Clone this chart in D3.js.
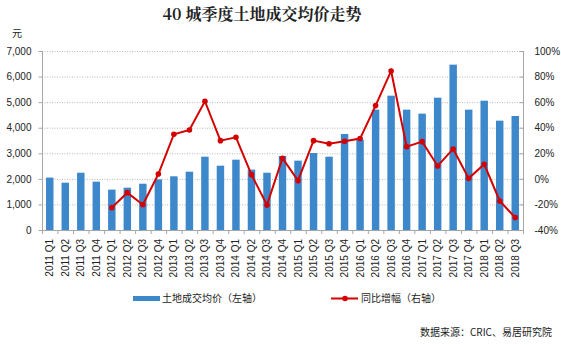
<!DOCTYPE html>
<html><head><meta charset="utf-8">
<script src="https://cdn.jsdelivr.net/npm/d3@7/dist/d3.min.js"></script>
<style>body{margin:0;background:#fff}svg{display:block}</style>
</head><body><svg id="c" width="561" height="345"></svg>
<script>
const categories = ["2011 Q1","2011 Q2","2011 Q3","2011 Q4","2012 Q1","2012 Q2","2012 Q3","2012 Q4","2013 Q1","2013 Q2","2013 Q3","2013 Q4","2014 Q1","2014 Q2","2014 Q3","2014 Q4","2015 Q1","2015 Q2","2015 Q3","2015 Q4","2016 Q1","2016 Q2","2016 Q3","2016 Q4","2017 Q1","2017 Q2","2017 Q3","2017 Q4","2018 Q1","2018 Q2","2018 Q3"];
const priceValues = [2050,1850,2240,1890,1580,1655,1810,1980,2100,2280,2867,2515,2750,2360,2240,2894,2712,3011,2867,3755,3533,4706,5253,4706,4550,5175,6466,4706,5057,4276,4458];
const growthValues = [null,null,null,null,-22.5,-10.8,-20.2,3.8,34.9,38.2,60.7,29.9,32.5,3.3,-20.4,16.1,-1.4,29.9,27.5,29.4,31.5,57.3,84.4,25.2,29.1,10.1,23.4,0.4,11.4,-17.3,-30.3];
const leftTicks = [0,1000,2000,3000,4000,5000,6000,7000];
const rightTicks = [-40,-20,0,20,40,60,80,100];
const title = "40 城季度土地成交均价走势";
const legendLabels = ["土地成交均价（左轴）","同比增幅（右轴）"];
const sourceText = "数据来源：CRIC、易居研究院";

const svg = d3.select("#c");
const font = "'Liberation Sans', Arial, 'Noto Sans CJK SC', sans-serif";
const L = 42, R = 523, T = 51, B = 230;
const blue = "#3d87cb", red = "#d40000";

const x = d3.scaleBand().domain(categories).range([L, R]).paddingInner(0.52).paddingOuter(0.26);
const yL = d3.scaleLinear().domain([0,7000]).range([B, T]);
const yR = d3.scaleLinear().domain([-40,100]).range([B, T]);

// title
svg.append("text").attr("x", 262).attr("y", 20).attr("text-anchor","middle")
  .attr("font-family","'Noto Serif CJK SC','Noto Sans CJK SC',serif").attr("font-weight","bold")
  .attr("font-size",16).attr("fill","#222").text(title);
svg.append("text").attr("x", 12).attr("y", 37).attr("font-family","'Noto Sans CJK SC',sans-serif")
  .attr("font-size",10).attr("fill","#222").text("元");

// gridlines
svg.append("g").selectAll("line").data(leftTicks.filter(d=>d>0)).join("line")
  .attr("x1", L).attr("x2", R).attr("y1", d=>yL(d)+0.5).attr("y2", d=>yL(d)+0.5)
  .attr("stroke","#b8b8b8").attr("stroke-dasharray","1,1.5");

// left axis
const gL = svg.append("g").attr("transform",`translate(${L+0.5},0)`)
  .call(d3.axisLeft(yL).tickValues(leftTicks).tickFormat(d3.format(",")).tickSize(4).tickPadding(7));
// right axis
const gR = svg.append("g").attr("transform",`translate(${R+0.5},0)`)
  .call(d3.axisRight(yR).tickValues(rightTicks).tickFormat(d=>d+"%").tickSize(4).tickPadding(7));
[gL,gR].forEach(g=>{
  g.select(".domain").attr("stroke","#a6a6a6").attr("d", g===gL ? `M0,${T}V${B}` : `M0,${T}V${B}`);
  g.selectAll(".tick line").attr("stroke","#a6a6a6");
  g.selectAll("text").attr("font-family",font).attr("font-size",10).attr("fill","#222");
});
gR.selectAll(".tick line").attr("x2",-4);
gR.selectAll(".tick text").attr("x",11);

// bars
svg.append("g").selectAll("rect").data(priceValues).join("rect")
  .attr("x",(d,i)=>x(categories[i])).attr("width",x.bandwidth())
  .attr("y",d=>yL(d)).attr("height",d=>B-yL(d)).attr("fill",blue);

// bottom axis
const step = x.step();
const gB = svg.append("g");
gB.append("line").attr("x1",L).attr("x2",R).attr("y1",B+0.5).attr("y2",B+0.5).attr("stroke","#a6a6a6");
gB.selectAll("line.t").data(d3.range(categories.length+1)).join("line").attr("class","t")
  .attr("x1",i=>L+i*step+0.5).attr("x2",i=>L+i*step+0.5).attr("y1",B).attr("y2",B+4).attr("stroke","#a6a6a6");
gB.selectAll("text").data(categories).join("text")
  .attr("transform",d=>`translate(${x(d)+x.bandwidth()/2+3.5},${B+9}) rotate(-90)`)
  .attr("text-anchor","end").attr("font-family",font).attr("font-size",10).attr("fill","#222").text(d=>d);

// line
const pts = growthValues.map((v,i)=>({v,c:categories[i]})).filter(d=>d.v!==null);
const line = d3.line().x(d=>x(d.c)+x.bandwidth()/2).y(d=>yR(d.v));
svg.append("path").datum(pts).attr("d",line).attr("fill","none").attr("stroke",red).attr("stroke-width",2);
svg.append("g").selectAll("circle").data(pts).join("circle")
  .attr("cx",d=>x(d.c)+x.bandwidth()/2).attr("cy",d=>yR(d.v)).attr("r",2.8).attr("fill",red);

// legend
const lg = svg.append("g").attr("font-family","'Noto Sans CJK SC',sans-serif").attr("font-size",10).attr("fill","#222");
lg.append("rect").attr("x",133).attr("y",296).attr("width",27).attr("height",5).attr("fill",blue);
lg.append("text").attr("x",162).attr("y",302).text(legendLabels[0]);
lg.append("line").attr("x1",331).attr("x2",358).attr("y1",298.5).attr("y2",298.5).attr("stroke",red).attr("stroke-width",2);
lg.append("circle").attr("cx",345).attr("cy",298.5).attr("r",2.8).attr("fill",red);
lg.append("text").attr("x",361).attr("y",302).text(legendLabels[1]);

svg.append("text").attr("x",552).attr("y",336).attr("text-anchor","end")
  .attr("font-family","'Noto Sans CJK SC',sans-serif").attr("font-size",10).attr("fill","#222").text(sourceText);
</script></body></html>
